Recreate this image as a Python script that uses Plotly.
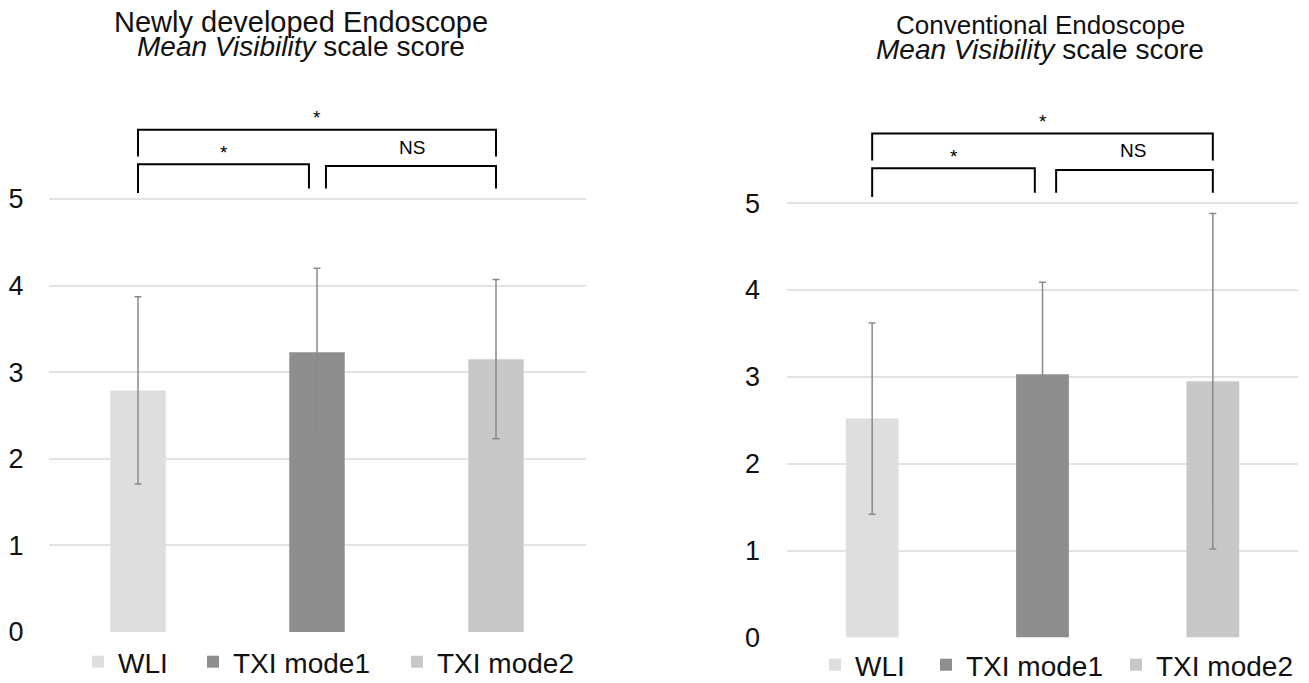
import plotly.graph_objects as go

# ---- data ----
categories = ["WLI", "TXI mode1", "TXI mode2"]
colors = ["#dedede", "#8e8e8e", "#c8c8c8"]
new_means = [2.79, 3.23, 3.15]
new_sd = [1.08, 0.97, 0.92]
conv_means = [2.52, 3.03, 2.95]
conv_sd = [1.10, 1.06, 1.93]
y_ticks = [0, 1, 2, 3, 4, 5]
titles_line1 = ["Newly developed Endoscope", "Conventional Endoscope"]
titles_line2 = ["<i>Mean Visibility</i> scale score", "<i>Mean Visibility</i> scale score"]
sig_labels = ["*", "*", "NS"]  # WLI vs TXI mode2 (outer), WLI vs mode1, mode1 vs mode2

FONT = "Liberation Sans, Arial, Helvetica, sans-serif"
W, H = 1309, 683

fig = go.Figure()

legend_names = ["legend", "legend2", "legend3", "legend4", "legend5", "legend6"]
for panel, (means, sds) in enumerate([(new_means, new_sd), (conv_means, conv_sd)]):
    xa = "x" if panel == 0 else "x2"
    ya = "y" if panel == 0 else "y2"
    for i, cat in enumerate(categories):
        fig.add_trace(go.Bar(
            x=[i], y=[means[i]], width=0.31, name=cat,
            marker=dict(color=colors[i], line=dict(width=0)),
            error_y=dict(type="data", array=[sds[i]], color="#8a8a8a",
                         thickness=1.5, width=3.5),
            xaxis=xa, yaxis=ya, legend=legend_names[panel * 3 + i], showlegend=True,
        ))

axis_common_x = dict(range=[-0.5, 2.5], showticklabels=False, showgrid=False,
                     zeroline=False, showline=False, ticks="", automargin=False)
axis_common_y = dict(range=[0, 6.3], tickvals=y_ticks, showgrid=True,
                     gridcolor="#e3e3e3", gridwidth=1.5, zeroline=False,
                     showline=False, ticks="", automargin=False,
                     tickfont=dict(family=FONT, size=27, color="#111"))

layout = dict(
    width=W, height=H,
    margin=dict(l=0, r=0, t=0, b=0, autoexpand=False),
    paper_bgcolor="white", plot_bgcolor="white",
    font=dict(family=FONT, color="#111"),
    barmode="overlay",
    xaxis=dict(domain=[48.5 / W, 585.5 / W], anchor="y", **axis_common_x),
    yaxis=dict(domain=[51 / H, (H - 86.4) / H], anchor="x",
               ticklabelstandoff=24, **axis_common_y),
    xaxis2=dict(domain=[787 / W, 1298 / W], anchor="y2", **axis_common_x),
    yaxis2=dict(domain=[45.4 / H, (H - 90.1) / H], anchor="x2",
                ticklabelstandoff=26, **axis_common_y),
    showlegend=True,
)
# legend entries: left edge of each entry (text begins about 40 px later)
legend_x = [78, 193, 397, 815, 926, 1116]
legend_y = [662, 662, 662, 665, 665, 665]
for k, name in enumerate(legend_names):
    layout[name] = dict(orientation="h", x=legend_x[k] / W, xanchor="left",
                        y=(H - legend_y[k]) / H, yanchor="middle",
                        font=dict(family=FONT, size=28, color="#111"),
                        bgcolor="rgba(0,0,0,0)", borderwidth=0,
                        itemclick=False, itemdoubleclick=False)
fig.update_layout(**layout)

# titles
title_pos = [(301, 22, 47), (1040, 25, 50)]
title1_size = [29, 26]
for k, (cx, y1, y2) in enumerate(title_pos):
    fig.add_annotation(text=titles_line1[k], xref="paper", yref="paper",
                       x=cx / W, y=(H - y1) / H, xanchor="center", yanchor="middle",
                       showarrow=False,
                       font=dict(family=FONT, size=title1_size[k], color="#111"))
    fig.add_annotation(text=titles_line2[k], xref="paper", yref="paper",
                       x=cx / W, y=(H - y2) / H, xanchor="center", yanchor="middle",
                       showarrow=False, font=dict(family=FONT, size=28, color="#111"))

# significance brackets (in data units of each panel)
for panel in range(2):
    xr = "x" if panel == 0 else "x2"
    yr = "y" if panel == 0 else "y2"
    line = dict(color="black", width=2)
    fig.add_shape(type="path", xref=xr, yref=yr,
                  path="M 0,5.49 L 0,5.80 L 2,5.80 L 2,5.49", line=line)
    fig.add_shape(type="path", xref=xr, yref=yr,
                  path="M 0,5.07 L 0,5.40 L 0.955,5.40 L 0.955,5.12", line=line)
    x_start = 1.05 if panel == 0 else 1.08
    fig.add_shape(type="path", xref=xr, yref=yr,
                  path=f"M {x_start},5.12 L {x_start},5.38 L 2,5.38 L 2,5.12", line=line)
    fig.add_annotation(text=sig_labels[0], xref=xr, yref=yr, x=1.0, y=5.94,
                       showarrow=False, font=dict(family=FONT, size=19, color="black"))
    fig.add_annotation(text=sig_labels[1], xref=xr, yref=yr, x=0.48, y=5.54,
                       showarrow=False, font=dict(family=FONT, size=19, color="black"))
    fig.add_annotation(text=sig_labels[2], xref=xr, yref=yr, x=1.53, y=5.60,
                       showarrow=False, font=dict(family=FONT, size=19, color="black"))

fig.write_html(
    "out.html",
    config={"displayModeBar": False},
    post_script="document.body.style.margin='0';document.body.style.overflow='hidden';",
)
